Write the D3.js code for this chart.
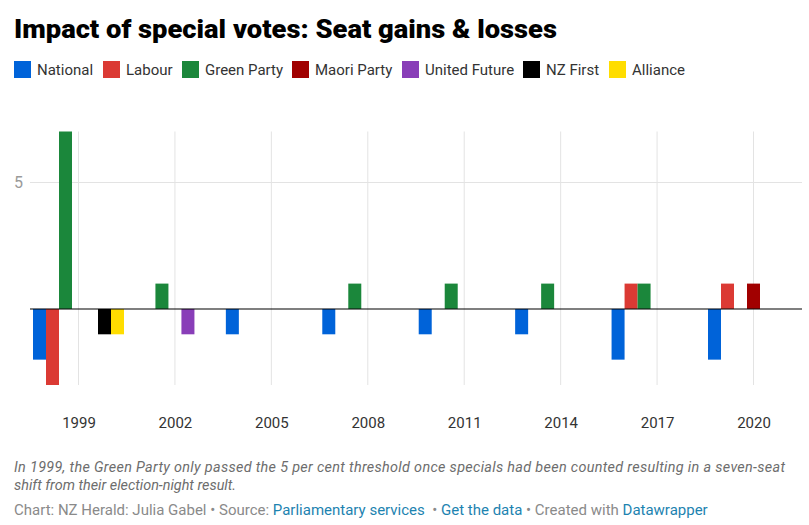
<!DOCTYPE html>
<html>
<head>
<meta charset="utf-8">
<script src="https://cdn.jsdelivr.net/npm/d3@7"></script>
<style>
  html, body { margin: 0; padding: 0; background: #fff; }
  svg { display: block; font-family: Roboto, "Noto Sans", sans-serif; }
  .pre { white-space: pre; }
</style>
</head>
<body>
<svg id="chart" width="809" height="525"></svg>
<script>
// ---- data ----
const years = ["1999", "2002", "2005", "2008", "2011", "2014", "2017", "2020"];
const seriesNames = ["National", "Labour", "Green Party", "Maori Party", "United Future", "NZ First", "Alliance"];
const seriesColors = ["#0063d9", "#db3a34", "#1b873b", "#a10000", "#893eb8", "#000000", "#ffdd00"];
const national      = [-2,  0, -1, -1, -1, -1, -2, -2];
const labour        = [-3,  0,  0,  0,  0,  0,  1,  1];
const greenParty    = [ 7,  1,  0,  1,  1,  1,  1,  0];
const maoriParty    = [ 0,  0,  0,  0,  0,  0,  0,  1];
const unitedFuture  = [ 0, -1,  0,  0,  0,  0,  0,  0];
const nzFirst       = [-1,  0,  0,  0,  0,  0,  0,  0];
const alliance      = [-1,  0,  0,  0,  0,  0,  0,  0];
const yTicks = [5];

const seriesValues = [national, labour, greenParty, maoriParty, unitedFuture, nzFirst, alliance];
const rows = [];
seriesNames.forEach((s, si) => {
  years.forEach((y, yi) => {
    const v = seriesValues[si][yi];
    if (v !== 0) rows.push({ series: s, year: y, value: v, color: seriesColors[si] });
  });
});

const svg = d3.select("#chart");

// ---- title ----
const title = svg.append("text")
  .attr("x", 14).attr("y", 38)
  .attr("font-size", 25).attr("font-weight", 900).attr("fill", "#000")
  .text("Impact of special votes: Seat gains & losses");
const tw = title.node().getComputedTextLength();
if (Math.abs(tw - 543) > 4) title.attr("textLength", 543).attr("lengthAdjust", "spacingAndGlyphs");

// ---- legend ----
const legendX = [14, 103, 182, 292, 402, 523, 609];
const legend = svg.append("g");
seriesNames.forEach((s, i) => {
  const g = legend.append("g").attr("transform", `translate(${legendX[i]},61)`);
  g.append("rect").attr("width", 17).attr("height", 17).attr("fill", seriesColors[i]);
  g.append("text").attr("x", 23).attr("y", 14)
    .attr("font-size", 15).attr("fill", "#333").text(s);
});

// ---- scales ----
const plotLeft = 30, plotRight = 802, plotTop = 131.5, plotBottom = 385;
const x = d3.scalePoint().domain(years).range([78.5, 753.5]);
const groupWidth = 91;
const xInner = d3.scaleBand().domain(seriesNames).range([-groupWidth / 2, groupWidth / 2]);
const y = d3.scaleLinear().domain([-3, 7]).range([plotBottom, plotTop]);

// ---- grid ----
const grid = svg.append("g");
grid.selectAll("line.v").data(years).join("line")
  .attr("x1", d => x(d)).attr("x2", d => x(d))
  .attr("y1", plotTop).attr("y2", plotBottom)
  .attr("stroke", "#e3e3e3").attr("stroke-width", 1);
grid.selectAll("line.h").data(yTicks).join("line")
  .attr("x1", plotLeft).attr("x2", plotRight)
  .attr("y1", d => Math.round(y(d)) + 0.5).attr("y2", d => Math.round(y(d)) + 0.5)
  .attr("stroke", "#e3e3e3").attr("stroke-width", 1);

// y axis labels
const yAxis = d3.axisLeft(y).tickValues(yTicks).tickSize(0).tickPadding(0);
const ya = svg.append("g").attr("transform", `translate(23,0)`).call(yAxis);
ya.select(".domain").remove();
ya.selectAll("text").attr("font-size", 16).attr("fill", "#9a9a9a").attr("font-family", "Roboto");

// ---- bars ----
svg.append("g").selectAll("rect").data(rows).join("rect")
  .attr("x", d => x(d.year) + xInner(d.series))
  .attr("width", xInner.bandwidth())
  .attr("y", d => y(Math.max(0, d.value)))
  .attr("height", d => Math.abs(y(d.value) - y(0)))
  .attr("fill", d => d.color);

// zero baseline
svg.append("line")
  .attr("x1", plotLeft).attr("x2", plotRight)
  .attr("y1", Math.round(y(0))).attr("y2", Math.round(y(0)))
  .attr("stroke", "#000").attr("stroke-width", 1.2);

// x axis labels
const xAxis = d3.axisBottom(x).tickSize(0).tickPadding(0);
const xa = svg.append("g").attr("transform", `translate(0,417)`).call(xAxis);
xa.select(".domain").remove();
xa.selectAll("text").attr("font-size", 15).attr("fill", "#333").attr("font-family", "Roboto");

// ---- notes / footer ----
const note = svg.append("text").attr("font-size", 14.4).attr("font-style", "italic").attr("fill", "#6d6d6d");
note.append("tspan").attr("x", 14).attr("y", 472)
  .attr("textLength", 771).attr("lengthAdjust", "spacing")
  .text("In 1999, the Green Party only passed the 5 per cent threshold once specials had been counted resulting in a seven-seat");
note.append("tspan").attr("x", 14).attr("y", 490)
  .text("shift from their election-night result.");

const foot = svg.append("text").attr("class", "pre").attr("x", 14).attr("y", 515).attr("font-size", 15).attr("fill", "#8a8a8a");
foot.append("tspan").text("Chart: NZ Herald: Julia Gabel • Source: ");
foot.append("tspan").attr("fill", "#1d83b0").text("Parliamentary services");
foot.append("tspan").text("  • ");
foot.append("tspan").attr("fill", "#1d83b0").text("Get the data");
foot.append("tspan").text(" • Created with ");
foot.append("tspan").attr("fill", "#1d83b0").text("Datawrapper");
</script>
</body>
</html>
